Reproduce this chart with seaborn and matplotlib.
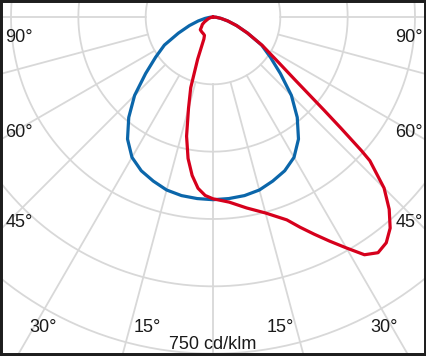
import numpy as np
import matplotlib.pyplot as plt
import seaborn as sns
import pandas as pd
from matplotlib.patches import Rectangle

# polar intensity curves, gamma in degrees, intensity in cd/klm
blue_gamma = [0, 5, 10, 15, 20, 25, 30, 35, 40, 45, 50, 55, 60, 65, 70, 75, 80, 85, 90]
blue_I = [407, 406, 404, 399, 389, 378, 361, 332, 292, 247, 196, 156, 125, 85, 56, 34, 18, 7, 0]

# C0 side (right)
red_right_gamma = [0, 5, 10, 15, 20, 22.5, 25, 27.5, 30, 32.5, 35, 37.5, 40, 42.5, 45,
                   47.5, 48, 49, 50, 52.5, 55, 60, 65, 70, 75, 80, 85, 90]
red_right_I = [405, 414, 432, 452, 481, 507, 534, 563, 594, 628, 641, 634, 614, 581, 539,
               474, 445, 378, 323, 231, 182, 127, 85, 56, 34, 18, 7, 0]

# C180 side (left)
red_left_gamma = [0, 2.5, 5, 7.5, 10, 12.5, 15, 17.5, 20, 22.5, 25, 30, 35, 40, 45,
                  50, 55, 60, 70, 80, 90]
red_left_I = [405, 398, 383, 356, 320, 272, 211, 165, 100, 53, 45, 43, 42, 41, 40,
              33, 29, 22, 11, 4, 0]

ring_values = [150, 300, 450, 600, 750, 900]
spoke_angles = list(range(-90, 91, 15))

left_labels = [("90°", 42), ("60°", 137), ("45°", 227)]
bottom_labels = [("30°", 43), ("15°", 147), ("15°", 280), ("30°", 384)]
unit_label = "750 cd/klm"

blue = pd.DataFrame({
    "gamma": [-g for g in blue_gamma[::-1]] + blue_gamma[1:],
    "I": blue_I[::-1] + blue_I[1:],
})
blue["plane"] = "C90-C270"
red = pd.DataFrame({
    "gamma": [-g for g in red_left_gamma[::-1]] + red_right_gamma[1:],
    "I": red_left_I[::-1] + red_right_I[1:],
})
red["plane"] = "C0-C180"
df = pd.concat([blue, red], ignore_index=True)
df["theta"] = np.deg2rad(df["gamma"])

sns.set_style("white")
W, H = 427, 356
fig = plt.figure(figsize=(W / 100, H / 100), dpi=100)
fig.patch.set_facecolor("white")

cx, cy, R = 213, 17, 404
ax = fig.add_axes([(cx - R) / W, (H - cy - R) / H, 2 * R / W, 2 * R / H], projection="polar")
ax.set_theta_zero_location("S")
ax.set_theta_direction(1)
ax.set_ylim(0, 900)
ax.grid(False)
ax.set_xticks([])
ax.set_yticks([])
ax.spines["polar"].set_visible(False)
ax.patch.set_alpha(0)

gc = "#d8d8d8"
t = np.linspace(0, 2 * np.pi, 400)
for rv in ring_values:
    ax.plot(t, np.full_like(t, rv), color=gc, lw=1.3, zorder=1)
for a in spoke_angles:
    ax.plot([np.deg2rad(a)] * 2, [150, 900], color=gc, lw=1.3, zorder=1)

sns.lineplot(data=df, x="theta", y="I", hue="plane", sort=False, estimator=None,
             palette={"C90-C270": "#0b66aa", "C0-C180": "#d6001c"},
             linewidth=2.3, legend=False, ax=ax, zorder=3)
for ln in ax.lines[-2:]:
    ln.set_solid_joinstyle("round")
    ln.set_solid_capstyle("round")
ax.set_xlabel("")
ax.set_ylabel("")

fs = 13
tc = "#1a1a1a"
for txt, yb in left_labels:
    fig.text(19 / W, 1 - yb / H, txt, ha="center", va="baseline", fontsize=fs,
             family="Liberation Sans", color=tc)
    fig.text(409 / W, 1 - yb / H, txt, ha="center", va="baseline", fontsize=fs,
             family="Liberation Sans", color=tc)
for txt, xc in bottom_labels:
    fig.text(xc / W, 1 - 332 / H, txt, ha="center", va="baseline", fontsize=fs,
             family="Liberation Sans", color=tc)
fig.text(213 / W, 1 - 349 / H, unit_label, ha="center", va="baseline", fontsize=fs,
         family="Liberation Sans", color=tc)

fig.add_artist(Rectangle((0, 0), 1, 1, transform=fig.transFigure, fill=False,
                         lw=4.3, ec="#1e1e1e", zorder=10))

fig.savefig("out.png", dpi=100)
